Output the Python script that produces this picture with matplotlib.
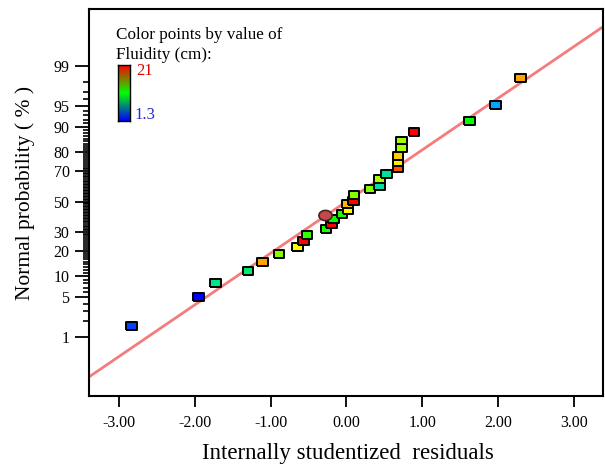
import matplotlib
matplotlib.use("Agg")
import matplotlib.pyplot as plt
import numpy as np
from statistics import NormalDist
from matplotlib.colors import LinearSegmentedColormap, Normalize

# ---------------- data ----------------
residuals = [-2.84, -1.95, -1.73, -1.30, -1.11, -0.89, -0.65, -0.57, -0.52, -0.27,
             -0.20, -0.17, -0.06, 0.02, 0.01, 0.09, 0.10, 0.31, 0.43, 0.43,
             0.53, 0.68, 0.68, 0.68, 0.73, 0.73, 0.89, 1.62, 1.97, 2.30]
probabilities = [1.63, 5.07, 8.1, 11.7, 15.0, 18.4, 21.9, 24.9, 28.3, 31.8,
                 35.2, 38.0, 41.7, 44.2, 48.1, 50.5, 54.4, 58.5, 60.7, 64.8,
                 68.2, 71.5, 74.9, 78.2, 81.9, 85.2, 88.4, 91.6, 95.05, 98.3]
fluidity = [2.9, 1.3, 9.2, 9.6, 18.0, 13.1, 16.1, 21.0, 11.9, 11.5,
            21.0, 11.2, 11.5, 16.1, 17.6, 21.0, 13.1, 13.1, 8.8, 13.7,
            8.8, 19.6, 16.5, 17.1, 13.7, 13.5, 21.0, 11.2, 5.2, 18.0]

highlight_residual = [-0.29]
highlight_probability = [40.6]

x_ticks = [-3.0, -2.0, -1.0, 0.0, 1.0, 2.0, 3.0]
y_major_ticks = [1, 5, 10, 20, 30, 50, 70, 80, 90, 95, 99]
y_minor_ticks = list(range(1, 100))

fluidity_min, fluidity_max = 1.3, 21.0
line_slope, line_intercept = 0.886, 0.0

# ---------------- helpers ----------------
nd = NormalDist()


def probit(p):
    return nd.inv_cdf(p / 100.0)


plt.rcParams['font.family'] = ['Liberation Serif', 'DejaVu Serif']
plt.rcParams['axes.unicode_minus'] = False

point_cmap = LinearSegmentedColormap.from_list(
    'points',
    [(0.0, '#0000ff'), (0.2, '#00a8ff'), (0.38, '#00e0a0'), (0.5, '#00ff00'),
     (0.62, '#a0ff00'), (0.75, '#ffff00'), (0.85, '#ffa500'), (0.93, '#ff5000'),
     (1.0, '#ff0000')])
bar_cmap = LinearSegmentedColormap.from_list('bar', ['#0000ff', '#00ff00', '#ff0000'])
norm = Normalize(fluidity_min, fluidity_max)

W, H = 605, 467
fig = plt.figure(figsize=(W / 100, H / 100), dpi=100)
ax = fig.add_axes([89 / W, 1 - 396 / H, (603 - 89) / W, (396 - 9) / H])
ax.set_xlim(-3.396, 3.383)
ax.set_ylim(-3.336, 3.302)

# reference line
xl = np.array(ax.get_xlim())
ax.plot(xl, line_slope * xl + line_intercept, color='#f47c7c', lw=2.0, zorder=2,
        solid_capstyle='butt')

# rectangle markers
rect = [(-1, -0.72), (1, -0.72), (1, 0.72), (-1, 0.72), (-1, -0.72)]
zvals = [probit(p) for p in probabilities]
ax.scatter(residuals, zvals, c=fluidity, cmap=point_cmap, norm=norm, marker=rect,
           s=7.8 ** 2, edgecolors='black', linewidths=1.4, zorder=3)

# highlighted point (ellipse)
th = np.linspace(0, 2 * np.pi, 40)
ell = list(zip(np.cos(th), 0.77 * np.sin(th)))
ax.scatter(highlight_residual, [probit(p) for p in highlight_probability],
           marker=ell, s=9.5 ** 2, facecolors='#c24a4a', edgecolors='#4a2222',
           linewidths=1.2, zorder=4)

# axes styling
for side in ['left', 'right', 'top', 'bottom']:
    ax.spines[side].set_linewidth(1.5)
ax.set_xticks(x_ticks)
ax.set_xticklabels(['%.2f' % v for v in x_ticks])
ax.set_yticks([probit(p) for p in y_major_ticks])
ax.set_yticklabels([str(p) for p in y_major_ticks])
ax.set_yticks([probit(p) for p in y_minor_ticks if p not in y_major_ticks], minor=True)
ax.tick_params(axis='x', which='major', direction='out', length=8, width=1.3,
               pad=6, labelsize=11.5)
ax.tick_params(axis='y', which='major', direction='out', length=10, width=1.3,
               pad=4, labelsize=11.5)
ax.tick_params(axis='y', which='minor', direction='out', length=4.5, width=1.2)
ax.tick_params(top=False, right=False)

# axis titles
fig.text(25 / W, 1 - 193 / H, 'Normal probability ( % )', rotation=90,
         ha='center', va='center', fontsize=15.5)
fig.text(348 / W, 1 - 453 / H, 'Internally studentized  residuals',
         ha='center', va='center', fontsize=16.5)

# colour legend
fig.text(116 / W, 1 - 27 / H, 'Color points by value of\nFluidity (cm):',
         ha='left', va='top', fontsize=12.3, linespacing=1.3)
cax = fig.add_axes([118 / W, 1 - 121 / H, 12 / W, 56 / H])
grad = np.linspace(fluidity_max, fluidity_min, 200)[:, None]
cax.imshow(grad, aspect='auto', cmap=bar_cmap, norm=norm)
cax.set_xticks([])
cax.set_yticks([])
for s in cax.spines.values():
    s.set_linewidth(1.0)
fig.text(136 / W, 1 - 71 / H, '%g' % fluidity_max, color='#e00000',
         ha='left', va='center', fontsize=12)
fig.text(134 / W, 1 - 115 / H, '%g' % fluidity_min, color='#2828d0',
         ha='left', va='center', fontsize=12)

fig.savefig('out.png', dpi=100)
